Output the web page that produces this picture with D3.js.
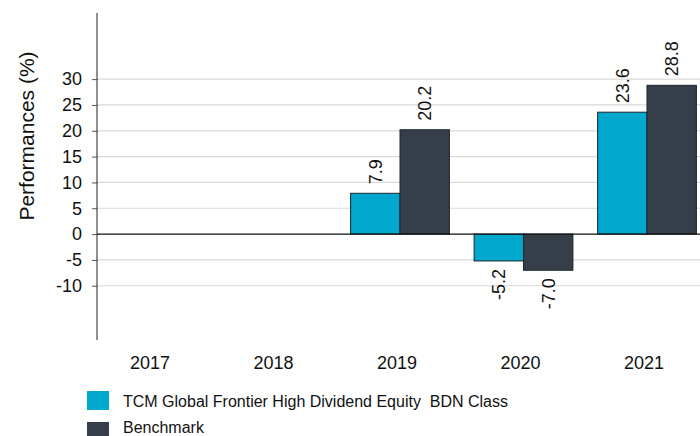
<!DOCTYPE html>
<html>
<head>
<meta charset="utf-8">
<script src="https://cdn.jsdelivr.net/npm/d3@7"></script>
<style>
  html, body { margin: 0; padding: 0; background: #fff; }
  svg { display: block; font-family: "Liberation Sans", Arial, sans-serif; }
  text { white-space: pre; }
</style>
</head>
<body>
<svg id="chart" width="700" height="436"></svg>
<script>
const years = ["2017", "2018", "2019", "2020", "2021"];
const seriesNames = ["TCM Global Frontier High Dividend Equity  BDN Class", "Benchmark"];
const fundValues = [null, null, 7.9, -5.2, 23.6];
const benchmarkValues = [null, null, 20.2, -7.0, 28.8];
const yTicks = [-10, -5, 0, 5, 10, 15, 20, 25, 30];
const colors = ["#00a8cd", "#353e49"];

const svg = d3.select("#chart");
const W = 700;

const y = d3.scaleLinear().domain([-20.5, 42.8]).range([340, 13]);
const x0 = d3.scaleBand().domain(years).range([91.25, 708.75]).padding(0);
const x1 = d3.scaleBand().domain([0, 1]).range([x0.bandwidth() * 0.1, x0.bandwidth() * 0.9]).padding(0);

const axisX = 97;

// gridlines
svg.append("g").selectAll("line").data(yTicks.filter(d => d !== 0)).join("line")
  .attr("x1", axisX).attr("x2", W)
  .attr("y1", d => y(d)).attr("y2", d => y(d))
  .attr("stroke", "#d9d9d9").attr("stroke-width", 1.2);

// y axis
const yAxis = d3.axisLeft(y).tickValues(yTicks).tickFormat(d => String(d))
  .tickSize(5).tickPadding(10).tickSizeOuter(0);
const gy = svg.append("g").attr("transform", `translate(${axisX},0)`).call(yAxis);
gy.select(".domain").remove();
gy.selectAll(".tick line").attr("stroke", "#555");
gy.selectAll(".tick text").attr("font-size", 18).attr("fill", "#111")
  .attr("font-family", "'Liberation Sans', Arial, sans-serif");
svg.append("line")
  .attr("x1", axisX).attr("x2", axisX)
  .attr("y1", y.range()[1]).attr("y2", y.range()[0])
  .attr("stroke", "#222").attr("stroke-width", 1);

// data
const data = years.map((yr, i) => ({ year: yr, vals: [fundValues[i], benchmarkValues[i]] }));

const groups = svg.append("g").selectAll("g").data(data).join("g")
  .attr("transform", d => `translate(${x0(d.year)},0)`);

groups.selectAll("rect").data(d => d.vals.map((v, k) => ({ v, k })).filter(e => e.v !== null)).join("rect")
  .attr("x", e => x1(e.k))
  .attr("width", x1.bandwidth())
  .attr("y", e => Math.min(y(e.v), y(0)))
  .attr("height", e => Math.abs(y(e.v) - y(0)))
  .attr("fill", e => colors[e.k])
  .attr("stroke", "#1d252c").attr("stroke-width", 1);

groups.selectAll("text").data(d => d.vals.map((v, k) => ({ v, k })).filter(e => e.v !== null)).join("text")
  .attr("transform", e => {
    const cx = x1(e.k) + x1.bandwidth() / 2;
    const ty = e.v >= 0 ? y(e.v) - 9 : y(e.v) + 8;
    return `translate(${cx},${ty}) rotate(-90)`;
  })
  .attr("dy", "0.36em")
  .attr("text-anchor", e => e.v >= 0 ? "start" : "end")
  .attr("font-size", 18).attr("fill", "#111")
  .text(e => e.v.toFixed(1));

// zero line
svg.append("line")
  .attr("x1", axisX).attr("x2", W)
  .attr("y1", y(0)).attr("y2", y(0))
  .attr("stroke", "#111").attr("stroke-width", 1.2);

// x labels
svg.append("g").selectAll("text").data(years).join("text")
  .attr("x", d => x0(d) + x0.bandwidth() / 2 - 3)
  .attr("y", 369)
  .attr("text-anchor", "middle")
  .attr("font-size", 18).attr("fill", "#111")
  .text(d => d);

// y title
svg.append("text")
  .attr("transform", "translate(33.5,136) rotate(-90)")
  .attr("text-anchor", "middle")
  .attr("font-size", 21).attr("fill", "#111")
  .text("Performances (%)");

// legend
const legend = svg.append("g").selectAll("g").data(seriesNames).join("g")
  .attr("transform", (d, i) => `translate(87,${391 + i * 31})`);
legend.append("rect").attr("width", 22).attr("height", 19).attr("fill", (d, i) => colors[i]);
legend.append("text").attr("x", 36).attr("y", (d, i) => i === 0 ? 15.7 : 11)
  .attr("font-size", 16).attr("fill", "#111")
  .text(d => d);
</script>
</body>
</html>
